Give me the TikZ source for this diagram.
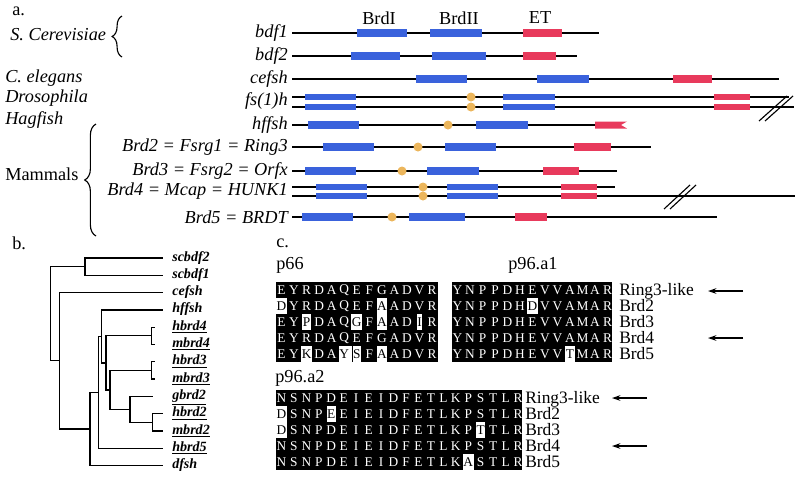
\documentclass[tikz,border=0pt]{standalone}
\usepackage{fontspec}
\setmainfont{Liberation Serif}
\usetikzlibrary{arrows.meta, decorations.pathreplacing}

\definecolor{brdblue}{RGB}{58,98,220}
\definecolor{etred}{RGB}{232,58,92}
\definecolor{motif}{RGB}{236,182,92}

\begin{document}
\begin{tikzpicture}[
    x=0.025cm, y=-0.025cm,
    lbl/.style={font=\fontsize{13}{15}\selectfont, inner sep=0pt},
    rowname/.style={lbl, font=\fontsize{12.4}{14}\selectfont, anchor=base west},
    gene/.style={lbl, font=\fontsize{13}{15}\selectfont\itshape, anchor=east},
    species/.style={gene, anchor=west},
    prot/.style={line width=0.95pt},
    brd/.style={line width=5pt, draw=brdblue},
    et/.style={line width=5pt, draw=etred},
    motifdot/.style={fill=motif},
    brk/.style={line width=0.8pt},
    cbrace/.style={decorate, decoration={brace, amplitude=#1}, line width=0.8pt},
    branch/.style={line width=0.9pt},
    leaf/.style={font=\fontsize{10}{12}\selectfont\bfseries\itshape, anchor=base west, inner sep=0pt},
    blk/.style={fill=black, inner sep=0pt, anchor=north west, minimum height=2cm},
    aa/.style={text=white, font=\fontsize{9.5}{11}\selectfont, inner sep=0pt},
    hl/.style={aa, fill=white, text=black, inner xsep=0.4pt, minimum height=11.4pt},
    arr/.style={-{Stealth[length=6pt, width=4pt]}, line width=1pt}
]
\useasboundingbox (0,0) rectangle (800,476);

% Panel letters
\node[lbl, anchor=west] (pa) at (12,11) {a.};
\node[lbl, anchor=west] (pb) at (12,243) {b.};
\node[lbl, anchor=west] (pc) at (276,243) {c.};

% a. Species and genes
\node[species] (sc) at (10,35) {S. Cerevisiae};
\node[species] (ce) at (5,78) {C. elegans};
\node[species] (dm) at (5,98) {Drosophila};
\node[species] (hf) at (5,120) {Hagfish};
\node[lbl, anchor=west] (mm) at (5,174) {Mammals};
\draw[cbrace=7pt] (122,57) -- (122,16);
\draw[cbrace=8pt] (96,236) -- (96,124);

\node[gene] (g1) at (288,33) {bdf1};
\node[gene] (g2) at (288,56) {bdf2};
\node[gene] (g3) at (288,79) {cefsh};
\node[gene] (g4) at (288,101) {fs(1)h};
\node[gene] (g5) at (288,125) {hffsh};
\node[gene] (g6) at (288,147) {Brd2 = Fsrg1 = Ring3};
\node[gene] (g7) at (288,171) {Brd3 = Fsrg2 = Orfx};
\node[gene] (g8) at (288,191) {Brd4 = Mcap = HUNK1};
\node[gene] (g9) at (288,217) {Brd5 = BRDT};

\node[lbl] (hbI) at (379,18) {BrdI};
\node[lbl] (hbII) at (459,18) {BrdII};
\node[lbl] (het) at (540,18) {ET};

% Domain maps: y / end / BrdI / BrdII / ET
\foreach \y/\e/\ia/\ib/\iia/\iib/\eta/\etb in {
    33/599/357/407/430/482/523/562,
    56/577/351/400/432/486/523/556,
    79/779/416/467/537/589/673/712,
    147/651/323/374/445/496/574/611,
    171/617/305/356/427/479/543/579,
    217/717/302/353/409/465/515/547}{
  \draw[prot] (292,\y) -- (\e,\y);
  \draw[brd] (\ia,\y) -- (\ib,\y);
  \draw[brd] (\iia,\y) -- (\iib,\y);
  \draw[et] (\eta,\y) -- (\etb,\y);
}
% fs(1)h
\foreach \y/\e in {97/789, 107/794}{
  \draw[prot] (292,\y) -- (\e,\y);
  \draw[brd, line width=4.4pt] (305,\y) -- (356,\y);
  \draw[brd, line width=4.4pt] (503,\y) -- (555,\y);
  \draw[et, line width=4.4pt] (714,\y) -- (750,\y);
}
% Brd4
\foreach \y/\e in {187/615, 196/795}{
  \draw[prot] (292,\y) -- (\e,\y);
  \draw[brd, line width=4.4pt] (316,\y) -- (367,\y);
  \draw[brd, line width=4.4pt] (447,\y) -- (498,\y);
  \draw[et, line width=4.4pt] (561,\y) -- (597,\y);
}
% hffsh
\draw[prot] (292,125) -- (610,125);
\draw[brd] (308,125) -- (359,125);
\draw[brd] (476,125) -- (528,125);
\fill[etred] (595,121.5) -- (627,121.5) -- (621,125) -- (627,128.5) -- (595,128.5) -- cycle;

\foreach \x/\y in {471/97, 471/107, 448/125, 418/147, 402/171, 423/187, 423/196, 392/217}
  \fill[motifdot] (\x,\y) circle[radius=3.2pt];

% Breaks
\draw[brk] (759,121) -- (787,96);
\draw[brk] (765,121) -- (793,96);
\draw[brk] (664,209) -- (690,185);
\draw[brk] (670,209) -- (696,185);

% b. Tree
\foreach \i/\y/\e/\t in {1/258/163/scbdf2, 2/275.3/163/scbdf1, 3/292.6/163/cefsh,
    4/309.9/163/hffsh, 5/327.2/155/\underline{hbrd4}, 6/344.5/155/\underline{mbrd4},
    7/361.8/155/\underline{hbrd3}, 8/379.1/155/\underline{mbrd3}, 9/396.4/153/\underline{gbrd2},
    10/413.7/163/\underline{hbrd2}, 11/431/163/\underline{mbrd2}, 12/448.3/163/\underline{hbrd5},
    13/465.6/163/dfsh}{
  \coordinate (l\i) at (\e,\y);
  \node[leaf] (t\i) at (172,\y+3) {\t};
}
\coordinate (p45) at (151.7,335.85);
\coordinate (p78) at (151.7,370.45);
\coordinate (n5) at (152.7,422.35);
\coordinate (n4) at (130,409.4);
\coordinate (n3) at (110,389.9);
\coordinate (n2) at (106,362.9);
\coordinate (n1) at (101.7,336.4);
\coordinate (n0) at (98.3,392.35);
\coordinate (nm) at (90,429);
\coordinate (nc) at (59.3,360.8);
\coordinate (ns) at (85,266.65);
\coordinate (root) at (50.7,313.7);
\foreach \a/\b in {root/ns, root/nc, ns/l1, ns/l2, nc/l3, nc/nm, nm/n0, nm/l13,
    n0/n1, n0/l12, n1/l4, n1/n2, n2/p45, n2/n3, n3/p78, n3/n4, n4/l9, n4/n5,
    n5/l10, n5/l11, p45/l5, p45/l6, p78/l7, p78/l8}
  \draw[branch] (\a) |- (\b);

% c. Alignments (x = substituted residue, set below)
\node[lbl, anchor=west] (p66) at (276,265) {p66};
\node[lbl, anchor=west] (pa1) at (508,265) {p96.a1};
\node[lbl, anchor=west] (pa2) at (275,378) {p96.a2};

\node[blk, minimum width=4.05cm] (b1) at (276,282) {};
\node[blk, minimum width=4cm] (b2) at (452,282) {};
\node[blk, minimum width=6.15cm] (b3) at (276,390) {};

\foreach \row [count=\r] in {{E,Y,R,D,A,Q,E,F,G,A,D,V,R}, {x,Y,R,D,A,Q,E,F,x,A,D,V,R},
    {E,Y,x,D,A,Q,x,F,x,A,D,x,R}, {E,Y,R,D,A,Q,E,F,G,A,D,V,R}, {E,Y,x,D,A,x,x,F,x,A,D,V,R}}{
  \foreach \ch [count=\c] in \row
    \node[aa] (s1-\r-\c) at (281.5+12.55*\c-12.55, 290+16*\r-16) {\if x\ch\else\ch\fi};
}
\foreach \row [count=\r] in {{Y,N,P,P,D,H,E,V,V,A,M,A,R}, {Y,N,P,P,D,H,x,V,V,A,M,A,R},
    {Y,N,P,P,D,H,E,V,V,A,M,A,R}, {Y,N,P,P,D,H,E,V,V,A,M,A,R}, {Y,N,P,P,D,H,E,V,V,x,M,A,R}}{
  \foreach \ch [count=\c] in \row
    \node[aa] (s2-\r-\c) at (457.5+12.5*\c-12.5, 290+16*\r-16) {\if x\ch\else\ch\fi};
}
\foreach \row [count=\r] in {{N,S,N,P,D,E,I,E,I,D,F,E,T,L,K,P,S,T,L,R},
    {x,S,N,P,x,E,I,E,I,D,F,E,T,L,K,P,S,T,L,R}, {x,S,N,P,D,E,I,E,I,D,F,E,T,L,K,P,x,T,L,R},
    {N,S,N,P,D,E,I,E,I,D,F,E,T,L,K,P,S,T,L,R}, {N,S,N,P,D,E,I,E,I,D,F,E,T,L,K,x,S,T,L,R}}{
  \foreach \ch [count=\c] in \row
    \node[aa] (s3-\r-\c) at (281.5+12.45*\c-12.45, 398+16*\r-16) {\if x\ch\else\ch\fi};
}

% Substitutions
\foreach \r/\c/\ch in {2/1/D, 2/9/A, 3/3/P, 3/7/G, 3/9/A, 3/12/I, 5/3/K, 5/6/Y, 5/7/S, 5/9/A}
  \node[hl] (h1-\r-\c) at (s1-\r-\c) {\ch};
\fill[white] (h1-5-6.north east) rectangle (h1-5-7.south west);
\foreach \r/\c/\ch in {2/7/D, 5/10/T}
  \node[hl] (h2-\r-\c) at (s2-\r-\c) {\ch};
\foreach \r/\c/\ch in {2/1/D, 2/5/E, 3/1/D, 3/17/T, 5/16/A}
  \node[hl] (h3-\r-\c) at (s3-\r-\c) {\ch};

% Row names
\foreach \t [count=\r] in {Ring3-like, Brd2, Brd3, Brd4, Brd5}{
  \node[rowname] (ra\r) at (619, 295+16*\r-16) {\t};
  \node[rowname] (rb\r) at (525, 403+16*\r-16) {\t};
}

% Arrows
\coordinate (q1) at (743,291); \coordinate (q1h) at (708,291);
\coordinate (q2) at (743,338); \coordinate (q2h) at (708,338);
\coordinate (q3) at (647,398); \coordinate (q3h) at (612,398);
\coordinate (q4) at (647,446); \coordinate (q4h) at (612,446);
\draw[arr] (q1) -- (q1h);
\draw[arr] (q2) -- (q2h);
\draw[arr] (q3) -- (q3h);
\draw[arr] (q4) -- (q4h);

\end{tikzpicture}
\end{document}
